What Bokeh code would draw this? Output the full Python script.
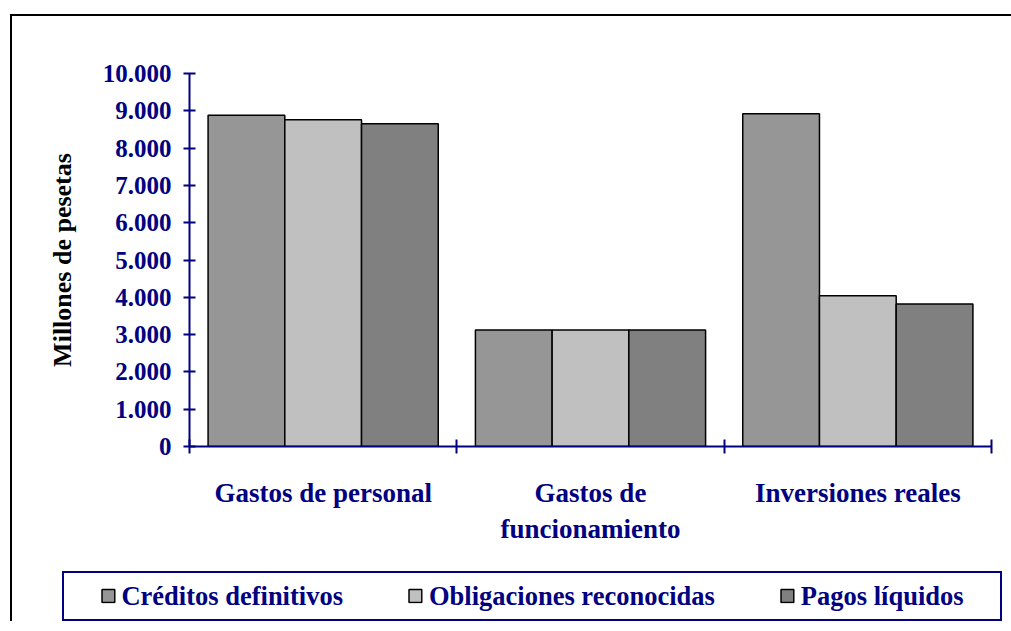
from bokeh.plotting import figure
from bokeh.models import Range1d, FixedTicker, Legend, LegendItem
from bokeh.layouts import column
from bokeh.embed import file_html
from bokeh.resources import INLINE

categories = ["Gastos de personal", "Gastos de\nfuncionamiento", "Inversiones reales"]
series_names = ["Créditos definitivos", "Obligaciones reconocidas", "Pagos líquidos"]
creditos = [8880, 3120, 8920]
obligaciones = [8760, 3120, 4040]
pagos = [8650, 3120, 3820]
y_ticks = [0, 1000, 2000, 3000, 4000, 5000, 6000, 7000, 8000, 9000, 10000]
y_tick_labels = ["0", "1.000", "2.000", "3.000", "4.000", "5.000",
                 "6.000", "7.000", "8.000", "9.000", "10.000"]
colors = ["#969696", "#C0C0C0", "#808080"]

FONT = "Liberation Serif"
NAVY = "#000080"

p = figure(width=999, height=555, output_backend="svg", toolbar_location=None,
           x_range=Range1d(0, 3), y_range=Range1d(0, 10000),
           min_border_left=177, min_border_right=20, min_border_top=57,
           min_border_bottom=125)
p.frame_align = False
p.outline_line_color = None
p.xgrid.visible = False
p.ygrid.visible = False
p.background_fill_color = "white"
p.border_fill_color = "white"

bar_w = 0.287
series = [creditos, obligaciones, pagos]
for k, vals in enumerate(series):
    off = (k - 1) * bar_w
    xs = [i + 0.5 + off for i in range(len(categories))]
    p.vbar(x=xs, top=vals, bottom=0, width=bar_w, fill_color=colors[k],
           line_color="black", line_width=1.5)

# y axis
ya = p.yaxis[0]
ya.ticker = FixedTicker(ticks=y_ticks, minor_ticks=[])
ya.major_label_overrides = {t: l for t, l in zip(y_ticks, y_tick_labels)}
ya.axis_line_color = NAVY
ya.axis_line_width = 2
ya.major_tick_line_color = NAVY
ya.major_tick_line_width = 2
ya.major_tick_in = 6
ya.major_tick_out = 6
ya.major_label_text_font = FONT
ya.major_label_text_font_style = "bold"
ya.major_label_text_font_size = "25px"
ya.major_label_text_color = NAVY
ya.major_label_standoff = 12
ya.axis_label = "Millones de pesetas"
ya.axis_label_text_font = FONT
ya.axis_label_text_font_style = "bold"
ya.axis_label_text_font_size = "26px"
ya.axis_label_text_color = "black"
ya.axis_label_standoff = 23

# x axis
xa = p.xaxis[0]
xa.ticker = FixedTicker(ticks=[0.5, 1.5, 2.5], minor_ticks=[0, 1, 2, 3])
xa.major_label_overrides = {0.5: categories[0], 1.5: categories[1], 2.5: categories[2]}
xa.axis_line_color = NAVY
xa.axis_line_width = 2
xa.major_tick_in = 0
xa.major_tick_out = 0
xa.minor_tick_line_color = NAVY
xa.minor_tick_line_width = 2
xa.minor_tick_in = 7
xa.minor_tick_out = 7
xa.major_label_text_font = FONT
xa.major_label_text_font_style = "bold"
xa.major_label_text_font_size = "27px"
xa.major_label_text_color = NAVY
xa.major_label_standoff = 24

# legend figure (its sample bars sit outside the visible range; only the key shows)
pl = figure(width=940, height=50, output_backend="svg", toolbar_location=None,
            x_range=Range1d(0, 1), y_range=Range1d(0, 1),
            min_border_left=0, min_border_right=0, min_border_top=0, min_border_bottom=0,
            x_axis_type=None, y_axis_type=None)
pl.frame_align = False
pl.xgrid.visible = False
pl.ygrid.visible = False
pl.outline_line_color = NAVY
pl.outline_line_width = 3
pl.background_fill_color = "white"
pl.border_fill_color = "white"
pl.margin = (0, 0, 0, 50)
leg_renderers = []
for k in range(len(series_names)):
    r = pl.vbar(x=[-5], top=[-5], bottom=-6, width=0.1, fill_color=colors[k],
                line_color="black", line_width=1.5)
    leg_renderers.append(r)

legend = Legend(items=[LegendItem(label=n, renderers=[r]) for n, r in zip(series_names, leg_renderers)],
                orientation="horizontal", location="center")
legend.label_text_font = FONT
legend.label_text_font_style = "bold"
legend.label_text_font_size = "26.5px"
legend.label_text_color = NAVY
legend.border_line_color = None
legend.background_fill_alpha = 0
legend.glyph_width = 16
legend.glyph_height = 16
legend.label_standoff = 6
legend.padding = 4
legend.spacing = 64
legend.margin = 0
pl.add_layout(legend)

layout = column(p, pl, spacing=0)
layout.styles = {"border-left": "2.5px solid black", "border-top": "2.5px solid black",
                 "margin-left": "9.5px", "margin-top": "13.5px"}

open("out.html", "w").write(file_html(layout, INLINE))
